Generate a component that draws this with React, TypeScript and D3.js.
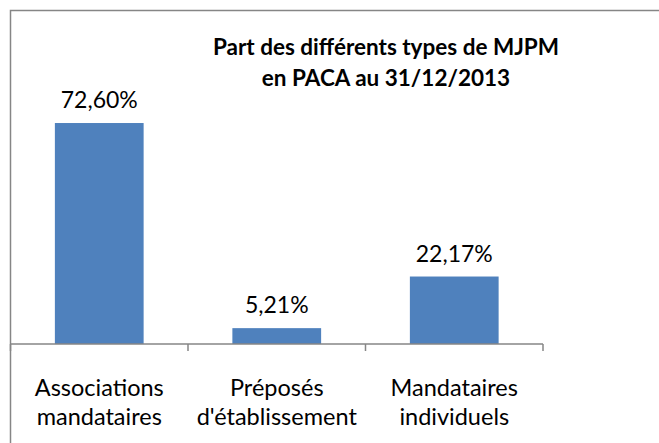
import React from "react";
import * as d3 from "d3";

const categories: string[][] = [
  ["Associations", "mandataires"],
  ["Préposés", "d'établissement"],
  ["Mandataires", "individuels"],
];
const values: number[] = [72.6, 5.21, 22.17];
const valueLabels: string[] = ["72,60%", "5,21%", "22,17%"];
const titleLines: string[] = ["Part des différents types de MJPM", "en PACA au 31/12/2013"];

const W = 659;
const H = 443;
const FONT = "Lato, 'Open Sans', sans-serif";

export default function App() {
  const keys = categories.map((c) => c.join(" "));
  const x = d3.scaleBand<string>().domain(keys).range([10.5, 543]).paddingInner(0.5).paddingOuter(0.25);
  const y = d3.scaleLinear().domain([0, 80]).range([344, 100.5]);
  const step = x.step();
  const ticks = d3.range(keys.length + 1).map((i) => 10.5 + i * step);
  const axisColor = "#868686";

  return (
    <svg width={W} height={H} style={{ position: "absolute", left: 0, top: 0, background: "#fff" }}>
      <rect x={0} y={0} width={W} height={H} fill="#fff" />
      <rect x={10.5} y={10.5} width={800} height={600} fill="none" stroke={axisColor} strokeWidth={1.5} />
      {values.map((v, i) => (
        <g key={i}>
          <rect x={x(keys[i])!} y={y(v)} width={x.bandwidth()} height={y(0) - y(v)} fill="#4F81BD" />
          <text
            x={x(keys[i])! + x.bandwidth() / 2}
            y={y(v) - 15}
            textAnchor="middle"
            fontFamily={FONT}
            fontSize={23}
            fill="#000"
          >
            {valueLabels[i]}
          </text>
        </g>
      ))}
      <line x1={10.5} x2={543} y1={344} y2={344} stroke={axisColor} strokeWidth={1.5} />
      {ticks.map((t, i) => (
        <line key={i} x1={t} x2={t} y1={344} y2={351} stroke={axisColor} strokeWidth={1.5} />
      ))}
      {categories.map((lines, i) =>
        lines.map((ln, j) => (
          <text
            key={i + "-" + j}
            x={x(keys[i])! + x.bandwidth() / 2}
            y={396 + j * 29}
            textAnchor="middle"
            fontFamily={FONT}
            fontSize={23.5}
            fill="#000"
          >
            {ln}
          </text>
        ))
      )}
      {titleLines.map((t, i) => (
        <text
          key={i}
          x={386}
          y={55 + i * 31}
          textAnchor="middle"
          fontFamily={FONT}
          fontWeight="bold"
          fontSize={22.5}
          fill="#000"
        >
          {t}
        </text>
      ))}
    </svg>
  );
}
